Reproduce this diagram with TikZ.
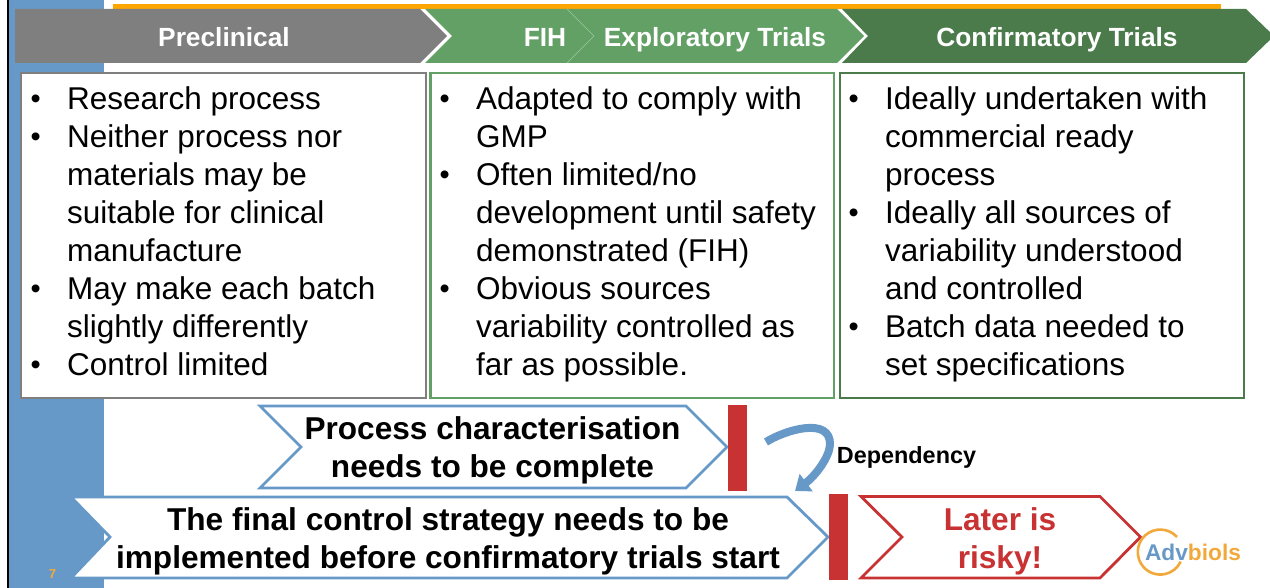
\documentclass[tikz,border=0pt]{standalone}
\usepackage{fontspec}
\setmainfont{Liberation Sans}
\usetikzlibrary{arrows.meta}
\definecolor{cgray}{HTML}{7F7F7F}
\definecolor{cgreen}{HTML}{63A066}
\definecolor{cdark}{HTML}{4B7A4B}
\definecolor{cblue}{HTML}{6699C8}
\definecolor{cred}{HTML}{C93232}
\definecolor{cline}{HTML}{FFA500}
\definecolor{clogo}{HTML}{F2A93B}
\newcommand{\itm}{\leavevmode\llap{\makebox[36.5pt][l]{\raisebox{.9pt}{\fontsize{29}{38}\selectfont •}}}}
\tikzset{
  head/.style={text=white,anchor=base,font=\bfseries\fontsize{26.3}{30}\selectfont,inner sep=0pt},
  panel/.style={draw=#1,line width=2.8pt,fill=white},
  listing/.style={anchor=north west,inner sep=0pt,align=left,font=\fontsize{31.5}{38}\selectfont},
  msg/.style={align=center,inner sep=0pt,font=\bfseries\fontsize{31.6}{38}\selectfont},
  chev/.style={draw=#1,line width=2.8pt,fill=white,line join=miter},
  bar/.style={fill=cred},
}
\begin{document}
\begin{tikzpicture}[x=1pt,y=-1pt]
\useasboundingbox (0,0) rectangle (1270,588);
% background band
\fill[cblue] (9,0) rectangle (104,588);
\fill[black] (7,0) rectangle (9,588);
\fill[cline] (113,4) rectangle (1221,9);
% header chevrons
\fill[cgray] (15,9) -- (420,9) -- (447,36) -- (420,63) -- (15,63) -- cycle;
\fill[cgreen] (425,9) -- (837,9) -- (864,36) -- (837,63) -- (425,63) -- (452,36) -- cycle;
\draw[cgreen!60!white,line width=.4pt] (567,9) -- (594,36) -- (567,63);
\fill[cdark] (842,9) -- (1246,9) -- (1274,36) -- (1246,63) -- (842,63) -- (868,36) -- cycle;
\node[head] (pre) at (224,47) {Preclinical};
\node[head] (fih) at (545,47) {FIH};
\node[head] (exp) at (715,47) {Exploratory Trials};
\node[head] (con) at (1057,47) {Confirmatory Trials};
% panels
\draw[panel=cgray] (21,73) rectangle (426,398);
\draw[panel=cgreen] (430.5,73) rectangle (834,398);
\draw[panel=cdark] (840,73) rectangle (1244,398);
\node[listing] (l1) at (67,82.4) {\strut\itm Research process\\
\itm Neither process nor\\materials may be\\suitable for clinical\\manufacture\\
\itm May make each batch\\slightly differently\\
\itm Control limited};
\node[listing] (l2) at (476,82.4) {\strut\itm Adapted to comply with\\GMP\\
\itm Often limited/no\\development until safety\\demonstrated (FIH)\\
\itm Obvious sources\\variability controlled as\\far as possible.};
\node[listing] (l3) at (885,82.4) {\strut\itm Ideally undertaken with\\commercial ready\\process\\
\itm Ideally all sources of\\variability understood\\and controlled\\
\itm Batch data needed to\\set specifications};
% lower chevrons
\draw[chev=cblue] (260,406) -- (686,406) -- (727,447) -- (686,488) -- (260,488) -- (301,447) -- cycle;
\fill[bar] (728,405) rectangle (747,491);
\node[msg] (charact) at (492.5,450) {Process characterisation\\needs to be complete};
\draw[chev=cblue] (71,497) -- (787,497) -- (828,537) -- (787,578) -- (71,578) -- (110,537) -- cycle;
\fill[bar] (829,494) rectangle (848,580);
\node[msg] (final) at (448,541) {The final control strategy needs to be\\implemented before confirmatory trials start};
\draw[chev=cred] (861,496.5) -- (1100,496.5) -- (1140.5,537) -- (1100,578) -- (861,578) -- (902,537) -- cycle;
\node[msg,text=cred] (later) at (1000,541) {Later is\\risky!};
% dependency arrow
\coordinate (dstart) at (766,442);
\coordinate (dend) at (795,491);
\draw[cblue,line width=8pt,-{Triangle[length=14pt,width=21pt]}] (dstart) .. controls (785,430) and (831,416) .. (830,445) .. controls (829,458) and (815,476) .. (dend);
\node[inner sep=0pt,anchor=base,font=\bfseries\fontsize{23.4}{28}\selectfont] (dep) at (906.5,463) {Dependency};
% logo
\draw[clogo,line width=2.6pt] (1177,537) arc[start angle=-42,end angle=-335,radius=22.5];
\node[inner sep=0pt,font=\bfseries\fontsize{22.7}{26}\selectfont] (logo) at (1193,552) {\textcolor{cblue}{Adv}\textcolor{clogo}{biols}};
\node[inner sep=0pt,text=clogo,font=\bfseries\fontsize{13}{15}\selectfont] (pg) at (52.5,574) {7};
\end{tikzpicture}
\end{document}
